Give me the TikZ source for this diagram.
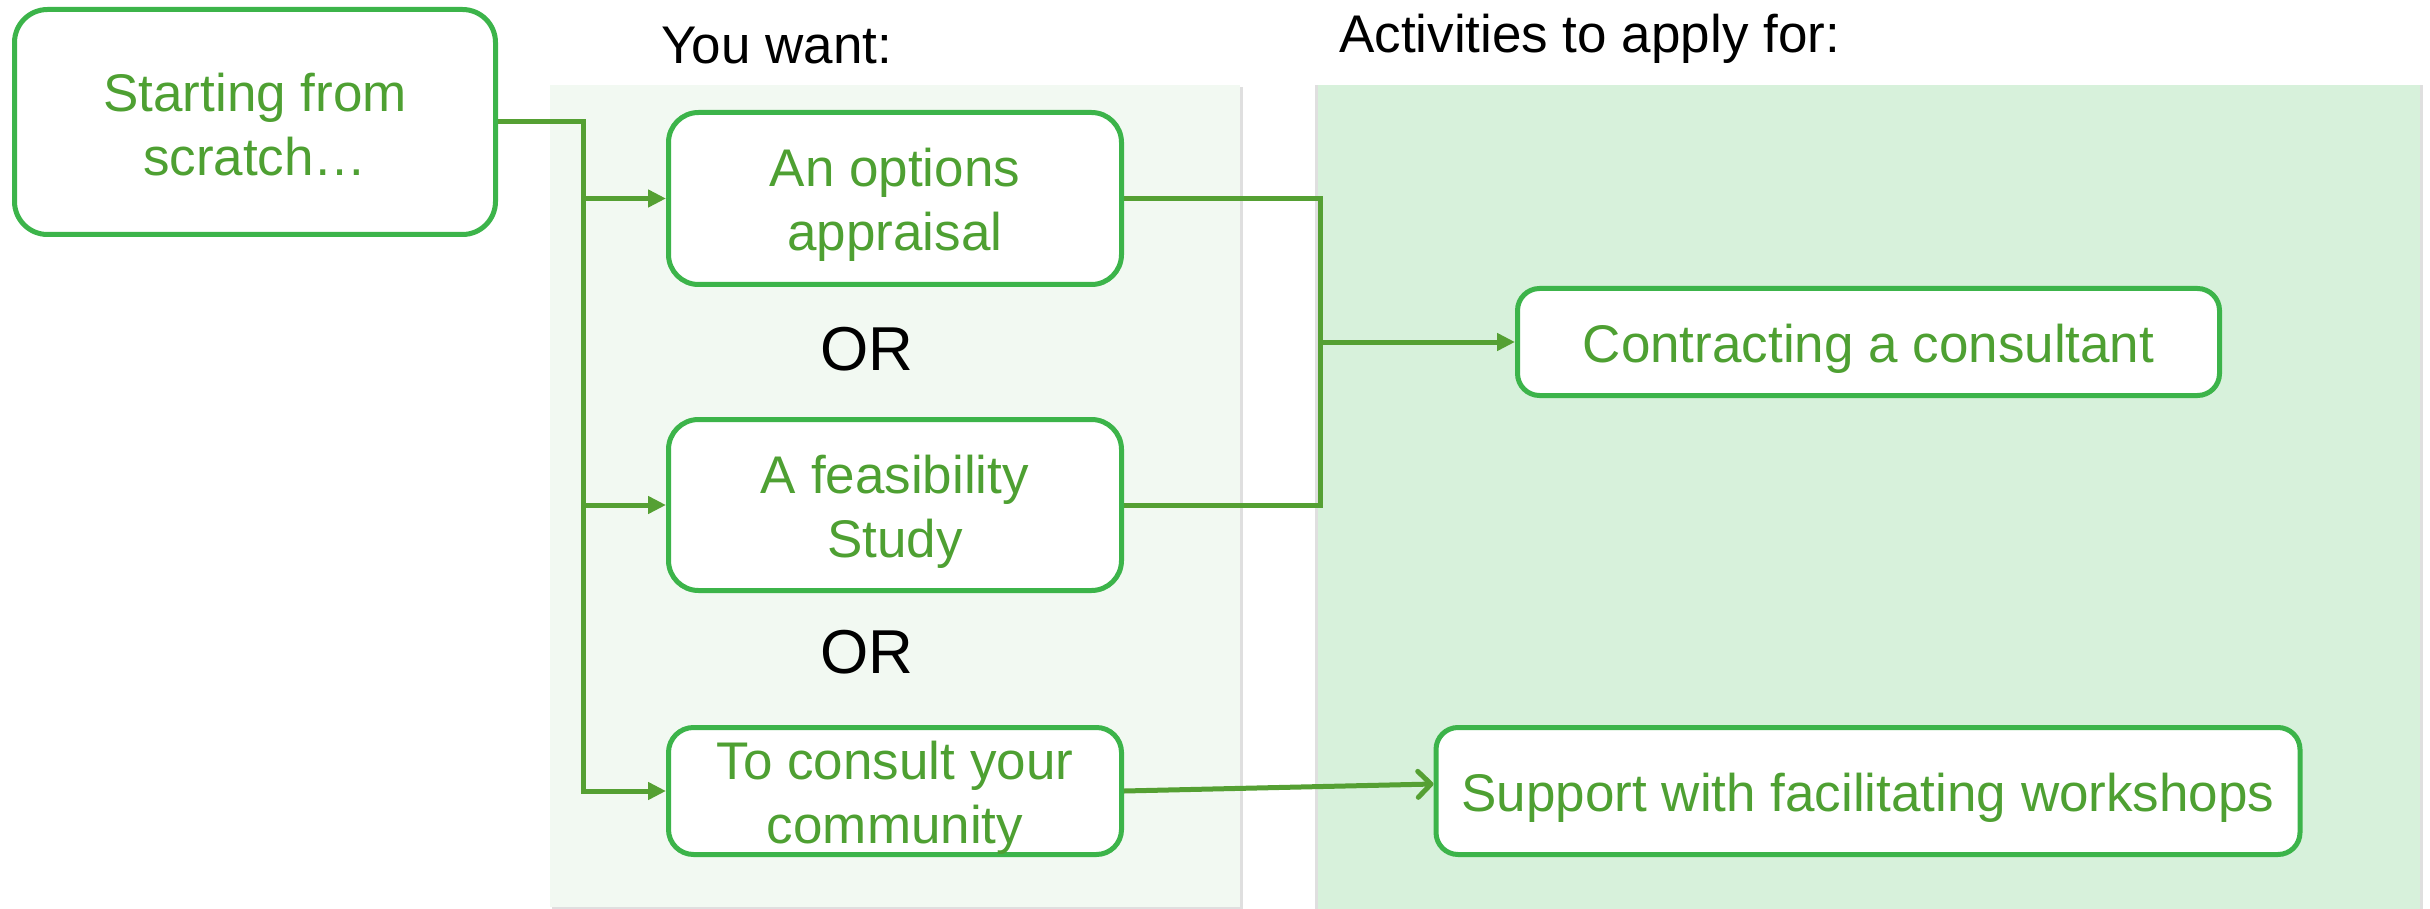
\documentclass[tikz,border=0pt]{standalone}
\usepackage{fontspec}
\setmainfont{Liberation Sans}
\usetikzlibrary{arrows.meta}
\definecolor{boxgreen}{HTML}{3CB44A}
\definecolor{txtgreen}{HTML}{4EA032}
\definecolor{linegreen}{HTML}{55A033}
\definecolor{panelA}{HTML}{F2F9F2}
\definecolor{panelB}{HTML}{D7F1DB}
\newcommand{\toppad}[1]{\rule{0pt}{#1}}
\begin{document}
\begin{tikzpicture}[x=1pt,y=-1pt,
  box/.style={draw=boxgreen, line width=5pt, fill=white, rounded corners=30pt,
    text=txtgreen, align=center, font=\fontsize{53}{64}\selectfont, inner sep=0pt},
  conn/.style={draw=linegreen, line width=5pt},
  tip/.style={-{Triangle[length=18pt,width=17pt]}},
  lbl/.style={font=\fontsize{53}{64}\selectfont, text=black, inner sep=0pt},
  ortext/.style={font=\fontsize{62}{74}\selectfont, text=black, inner sep=0pt}]
\useasboundingbox (0,0) rectangle (2430,909);
% panels
\fill[gray!25] (552,87) rectangle (1243,909);
\fill[panelA] (550,85) rectangle (1240,907);
\fill[gray!25] (1315,85) rectangle (2423,909);
\fill[panelB] (1318,85) rectangle (2420,909);
% nodes
\node[box, minimum width=481pt, minimum height=225pt, rounded corners=33pt] (start) at (255,122) {\toppad{44pt}Starting from\\scratch…};
\node[box, minimum width=453pt, minimum height=172pt] (box1) at (895,198.5) {\toppad{52pt}An options\\appraisal};
\node[box, minimum width=453pt, minimum height=171pt] (box2) at (895,505) {\toppad{52pt}A feasibility\\Study};
\node[box, minimum width=453pt, minimum height=127pt, rounded corners=25pt] (box3) at (895,791) {\toppad{52pt}To consult your\\community};
\node[box, minimum width=702pt, minimum height=107pt, rounded corners=22pt] (contract) at (1868.5,342) {\toppad{52pt}Contracting a consultant};
\node[box, minimum width=864pt, minimum height=127pt, rounded corners=22pt] (support) at (1868,791) {\toppad{52pt}Support with facilitating workshops};
\node[lbl, anchor=base west] (want) at (661,64) {You want:};
\node[lbl, anchor=base west] (acts) at (1339,53) {Activities to apply for:};
\node[ortext] (or1) at (867,349) {OR};
\node[ortext] (or2) at (867,652) {OR};
% connectors
\coordinate (trunk) at (583,122);
\draw[conn,tip] (start.east) -- (trunk) |- (box3.west);
\draw[conn,tip] (trunk |- box1.west) -- (box1.west);
\draw[conn,tip] (trunk |- box2.west) -- (box2.west);
\coordinate (merge) at (1320,342);
\draw[conn] (box1.east) -| (merge) |- (box2.east);
\draw[conn,tip] (merge) -- (contract.west);
\draw[conn,-{Straight Barb[length=13pt,width=26pt,round]}] (box3.east) -- ([yshift=7pt]support.west);
\end{tikzpicture}
\end{document}
